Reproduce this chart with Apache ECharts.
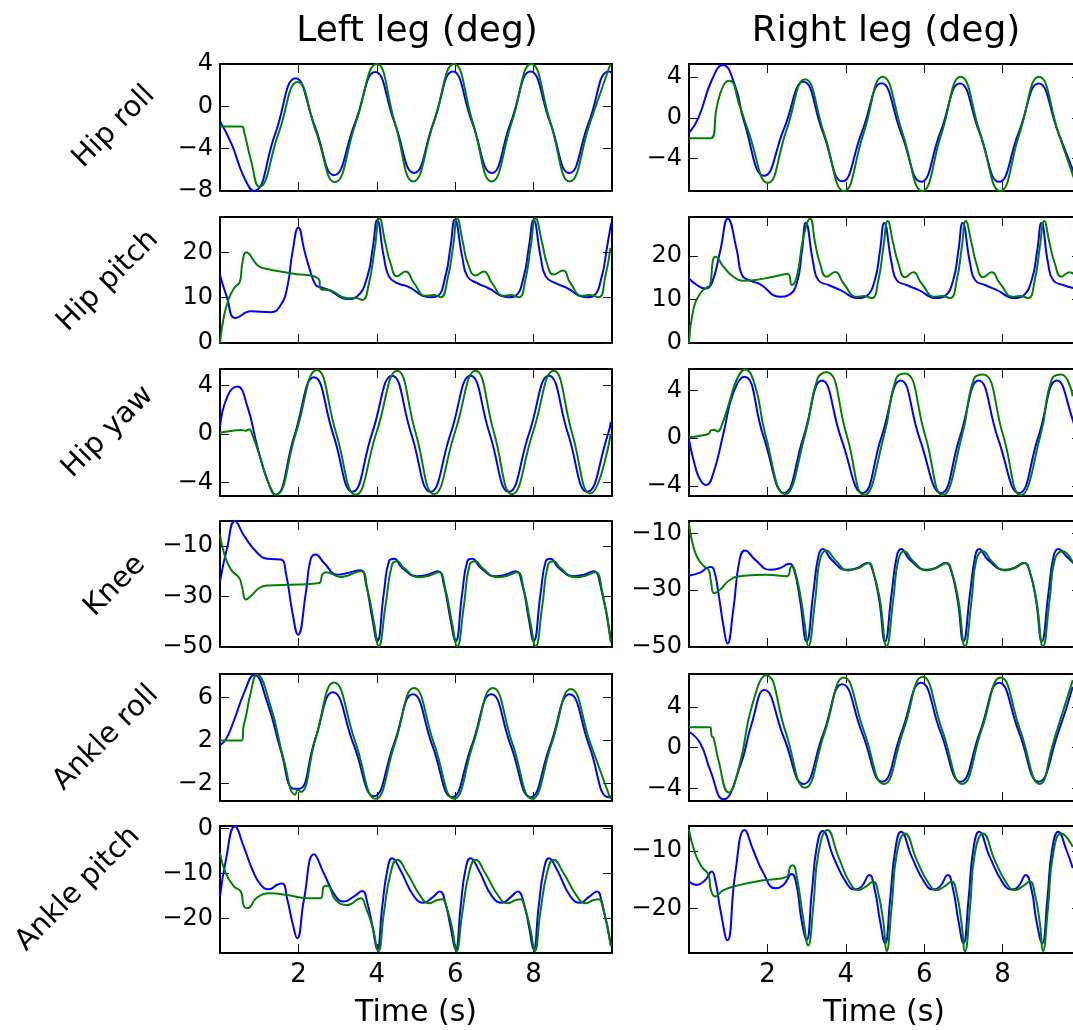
<!DOCTYPE html>
<html><head><meta charset="utf-8">
<script src="https://cdn.jsdelivr.net/npm/echarts@6/dist/echarts.min.js"></script>
<style>html,body{margin:0;padding:0;background:#fff;overflow:hidden;width:1073px;height:1030px}#c{width:1090px;height:1030px}</style>
</head><body><div id="c"></div><script>
// ---------- labels / ticks ----------
const columnTitles = ['Left leg (deg)', 'Right leg (deg)'];
const jointNames = ['Hip roll', 'Hip pitch', 'Hip yaw', 'Knee', 'Ankle roll', 'Ankle pitch'];
const xAxisName = 'Time (s)';
const timeTicks = [2, 4, 6, 8];
const timeRange = [0, 10];
const yTicksLeft  = [[-8,-4,0,4],[0,10,20],[-4,0,4],[-50,-30,-10],[-2,2,6],[-20,-10,0]];
const yTicksRight = [[-4,0,4],[0,10,20],[-4,0,4],[-50,-30,-10],[-4,0,4],[-20,-10]];
const yRangeLeft  = [[-8,4],[0,27.8],[-5.1,5.35],[-50,0],[-3.65,8.2],[-27.7,0.6]];
const yRangeRight = [[-7.2,5.3],[0,28.9],[-4.85,5.8],[-50,-5.6],[-5.2,7.2],[-27.7,-5.7]];

// ---------- data: [time s, angle deg] ----------
const L_hipRoll_1 = [[0,-1.4],[0.3,-3.6],[0.6,-6.6],[0.86,-8.0],[1.4,-2.7],[1.93,2.65],[2.42,-1.9],[2.91,-6.5],[3.44,-1.6],[3.96,3.25],[4.45,-1.5],[4.95,-6.3],[5.45,-1.5],[5.94,3.3],[6.43,-1.5],[6.93,-6.3],[7.42,-1.5],[7.92,3.3],[8.42,-1.5],[8.91,-6.3],[9.41,-1.5],[9.92,3.3],[10,3.2]];
const L_hipRoll_2 = [[0,-1.9],[0.55,-1.9],[0.62,-2.5],[0.79,-5.1],[1.0,-7.6],[1.49,-2.6],[1.98,2.3],[2.45,-2.4],[2.93,-7.15],[3.46,-1.6],[4.0,4.0],[4.46,-1.55],[4.93,-7.1],[5.45,-1.55],[5.97,4.0],[6.45,-1.55],[6.93,-7.1],[7.44,-1.55],[7.94,4.0],[8.43,-1.55],[8.92,-7.1],[9.44,-1.55],[9.96,4.0]];
const L_hipPitch_1 = [[0,15.0],[0.17,10.3],[0.4,5.5],[0.79,7.0],[1.3,6.8],[1.55,8.4],[1.72,12.5],[1.85,20.1],[2.0,25.5],[2.15,20.5],[2.27,16.8],[2.44,12.8],[2.57,12.3],[2.78,11.7],[3.25,9.7],[3.5,10.3],[3.76,14.7],[3.9,21.2],[4.01,27.1],[4.18,19.0],[4.31,14.7],[4.52,13.2],[4.78,12.5],[5.37,10.1],[5.54,10.3],[5.75,14.7],[5.88,21.2],[5.99,27.2],[6.18,19.0],[6.31,14.7],[6.56,13.2],[6.8,12.3],[7.37,10.1],[7.54,10.4],[7.75,14.7],[7.88,21.2],[8.0,27.1],[8.18,19.0],[8.31,14.7],[8.56,13.2],[8.81,12.3],[9.36,10.1],[9.53,10.4],[9.74,14.7],[9.87,21.0],[9.98,26.5]];
const L_hipPitch_2 = [[0,0],[0.1,5.9],[0.23,9.9],[0.36,12.1],[0.51,13.6],[0.57,17.6],[0.67,20.0],[0.95,17.2],[1.12,16.5],[1.8,15.4],[2.52,14.1],[2.57,11.9],[2.82,11.6],[3.25,9.9],[3.46,10.0],[3.63,9.5],[3.8,13.2],[3.95,21.0],[4.07,27.5],[4.22,22.0],[4.35,17.6],[4.52,14.7],[4.73,15.8],[4.95,13.2],[5.24,10.4],[5.46,10.6],[5.63,10.1],[5.8,13.9],[5.95,21.5],[6.05,27.5],[6.2,22.0],[6.32,17.6],[6.52,14.9],[6.73,15.8],[6.94,13.2],[7.24,10.4],[7.41,10.6],[7.62,10.1],[7.79,13.9],[7.93,21.5],[8.05,27.5],[8.22,22.0],[8.34,17.6],[8.51,15.1],[8.75,16.0],[8.94,13.2],[9.24,10.4],[9.41,10.6],[9.66,10.1],[9.83,14.7],[9.96,21.0]];
const L_hipYaw_1 = [[0,0.6],[0.19,3.1],[0.44,3.9],[0.7,2.25],[0.95,-1.0],[1.21,-3.8],[1.41,-5.0],[1.9,-0.1],[2.4,4.67],[2.89,-0.05],[3.38,-4.75],[3.88,0.05],[4.39,4.8],[4.88,0.0],[5.37,-4.75],[5.88,0.0],[6.39,4.8],[6.88,0.0],[7.37,-4.75],[7.88,0.0],[8.39,4.8],[8.88,0.0],[9.37,-4.75],[9.9,0.0],[9.97,1.0]];
const L_hipYaw_2 = [[0,0.1],[0.28,0.25],[0.53,0.33],[0.66,0.27],[0.74,0.4],[0.83,-0.1],[1.04,-2.1],[1.21,-3.8],[1.42,-5.0],[1.93,0.0],[2.47,5.27],[2.96,0.1],[3.46,-5.0],[3.99,0.1],[4.52,5.2],[4.99,0.1],[5.46,-4.95],[5.99,0.1],[6.52,5.2],[6.99,0.1],[7.45,-4.95],[7.98,0.1],[8.51,5.2],[8.98,0.1],[9.45,-4.9],[9.97,0.0]];
const L_knee_1 = [[0,-23.9],[0.19,-10],[0.38,0],[0.62,-6],[0.95,-12.6],[1.21,-15],[1.55,-15.3],[1.68,-20.6],[1.85,-36.5],[1.99,-45.1],[2.19,-28.5],[2.31,-15.3],[2.44,-13.3],[2.65,-16.6],[3.0,-21.3],[3.25,-20.6],[3.59,-19.5],[3.72,-24.6],[3.89,-39.1],[4.01,-47.7],[4.18,-28.5],[4.31,-16],[4.44,-15],[4.65,-18.6],[5.03,-21.9],[5.29,-21.3],[5.56,-19.9],[5.71,-25.2],[5.88,-39.1],[6.01,-47.7],[6.18,-28.5],[6.31,-16],[6.43,-15],[6.65,-18.6],[7.03,-21.9],[7.28,-21.3],[7.54,-19.9],[7.71,-25.2],[7.88,-39.1],[8.0,-47.7],[8.18,-28.5],[8.31,-16],[8.43,-15],[8.64,-18.6],[9.02,-21.9],[9.28,-21.3],[9.53,-19.9],[9.7,-25.2],[9.97,-47]];
const L_knee_2 = [[0,-5.4],[0.1,-12.6],[0.28,-19.3],[0.49,-22.6],[0.56,-25.9],[0.66,-31.2],[0.78,-29.9],[1.0,-26.6],[1.21,-25.6],[1.97,-25.2],[2.53,-24.6],[2.61,-21.3],[2.7,-20.3],[3.08,-22.2],[3.59,-19.9],[3.76,-27.2],[3.93,-40.5],[4.05,-49.7],[4.22,-33.8],[4.39,-17.3],[4.52,-16.0],[4.69,-18.6],[5.07,-22.3],[5.33,-21.7],[5.58,-20.3],[5.75,-27.2],[5.92,-40.5],[6.05,-49.7],[6.22,-33.8],[6.37,-17.3],[6.52,-16.0],[6.69,-18.6],[7.07,-22.3],[7.33,-21.7],[7.58,-20.3],[7.75,-27.2],[7.92,-40.5],[8.05,-49.7],[8.22,-33.8],[8.37,-17.3],[8.51,-16.0],[8.68,-18.6],[9.06,-22.3],[9.32,-21.7],[9.57,-20.3],[9.74,-27.2],[9.97,-48.3]];
const L_ankleRoll_1 = [[0,1.56],[0.15,2.1],[0.36,3.9],[0.61,6.4],[0.87,8.1],[1.21,5.5],[1.55,1.1],[1.89,-2.5],[2.02,-2.5],[2.42,2.0],[2.88,6.5],[3.41,1.6],[3.93,-3.2],[4.43,1.6],[4.92,6.3],[5.42,1.5],[5.92,-3.3],[6.42,1.5],[6.92,6.3],[7.42,1.5],[7.92,-3.3],[8.42,1.5],[8.92,6.3],[9.42,1.5],[9.91,-3.3],[9.98,-3.2]];
const L_ankleRoll_2 = [[0,2.0],[0.56,2.0],[0.6,3.3],[0.66,4.2],[0.78,6.4],[0.94,8.1],[1.29,5.2],[1.63,0.16],[1.92,-3.06],[1.99,-2.6],[2.06,-2.8],[2.44,2.2],[2.91,7.4],[3.44,2.0],[3.97,-3.44],[4.46,1.7],[4.95,6.9],[5.46,1.7],[5.97,-3.44],[6.46,1.7],[6.96,6.9],[7.46,1.7],[7.96,-3.44],[8.46,1.7],[8.95,6.8],[9.45,1.7],[9.96,-3.44]];
const L_anklePitch_1 = [[0,-15.1],[0.15,-7.0],[0.38,0.5],[0.61,-4.1],[0.83,-9.2],[1.04,-12.5],[1.25,-13.5],[1.46,-12.5],[1.59,-12.2],[1.72,-15.9],[1.85,-21.0],[1.97,-24.4],[2.14,-15.9],[2.4,-5.7],[2.65,-10.0],[2.95,-15.1],[3.16,-16.2],[3.42,-15.1],[3.63,-13.9],[3.76,-16.6],[3.89,-21.8],[4.01,-26.9],[4.14,-17.3],[4.27,-9.2],[4.39,-6.6],[4.6,-9.2],[4.95,-15.1],[5.2,-16.5],[5.42,-15.3],[5.61,-14.0],[5.75,-16.6],[5.88,-21.8],[6.01,-26.9],[6.14,-17.3],[6.26,-9.2],[6.39,-6.6],[6.6,-9.2],[6.94,-15.1],[7.2,-16.5],[7.41,-15.3],[7.6,-14.0],[7.75,-16.6],[7.88,-21.8],[8.0,-26.9],[8.13,-17.3],[8.26,-9.2],[8.39,-6.6],[8.6,-9.2],[8.94,-15.1],[9.19,-16.5],[9.4,-15.3],[9.62,-14.0],[9.74,-16.6],[9.97,-25.8]];
const L_anklePitch_2 = [[0,-5.5],[0.15,-10.0],[0.36,-12.9],[0.53,-14.0],[0.61,-17.3],[0.7,-17.7],[0.95,-15.3],[1.29,-14.4],[1.72,-14.8],[2.23,-15.5],[2.57,-15.5],[2.65,-12.9],[2.74,-12.7],[2.95,-15.9],[3.25,-17.0],[3.59,-15.5],[3.71,-17.3],[3.89,-21.8],[4.04,-27.3],[4.18,-18.8],[4.35,-10.0],[4.52,-6.9],[4.78,-10.0],[5.12,-15.1],[5.33,-16.6],[5.54,-15.9],[5.67,-15.7],[5.8,-18.1],[5.93,-22.5],[6.03,-27.3],[6.18,-18.8],[6.35,-10.0],[6.52,-6.9],[6.77,-10.0],[7.11,-15.1],[7.33,-16.6],[7.54,-15.9],[7.66,-15.7],[7.79,-18.1],[7.92,-22.5],[8.03,-27.3],[8.17,-18.8],[8.34,-10.0],[8.51,-6.9],[8.77,-10.0],[9.11,-15.1],[9.32,-16.6],[9.53,-15.9],[9.66,-15.7],[9.79,-18.1],[9.97,-26.2]];

const R_hipRoll_1 = [[0,-1.5],[0.24,0.0],[0.58,3.7],[0.86,5.2],[1.18,3.1],[1.4,-0.3],[1.92,-5.7],[2.42,-1.1],[2.92,3.55],[3.41,-1.35],[3.91,-6.25],[4.41,-1.4],[4.91,3.4],[5.41,-1.45],[5.92,-6.3],[6.41,-1.45],[6.91,3.37],[7.41,-1.45],[7.91,-6.3],[8.41,-1.45],[8.92,3.37],[9.42,-1.45],[9.91,-6.3]];
const R_hipRoll_2 = [[0,-2.0],[0.56,-2.0],[0.71,1.1],[0.88,3.2],[1.03,3.66],[1.3,1.1],[1.52,-1.4],[2.01,-6.4],[2.48,-1.3],[2.96,3.8],[3.45,-1.6],[3.95,-7.2],[4.45,-1.55],[4.94,4.05],[5.45,-1.55],[5.95,-7.2],[6.44,-1.55],[6.93,4.05],[7.43,-1.55],[7.94,-7.2],[8.43,-1.55],[8.93,4.05],[9.43,-1.55],[9.93,-7.2]];
const R_hipPitch_1 = [[0,14.8],[0.2,13.3],[0.41,12.5],[0.58,13.7],[0.8,21.3],[0.99,28.5],[1.22,21.3],[1.35,15.6],[1.56,14.3],[1.81,13.5],[2.32,10.6],[2.54,11.0],[2.75,13.7],[2.88,21.0],[2.98,27.6],[3.17,18.3],[3.3,14.4],[3.56,13.3],[3.85,12.2],[4.32,10.3],[4.53,10.8],[4.74,14.4],[4.87,21.0],[4.98,27.5],[5.17,18.3],[5.3,14.4],[5.55,13.3],[5.85,12.2],[6.31,10.3],[6.53,10.8],[6.74,14.4],[6.87,21.0],[6.98,27.5],[7.17,18.3],[7.3,14.4],[7.55,13.3],[7.84,12.2],[8.31,10.3],[8.52,10.8],[8.74,14.4],[8.88,21.0],[8.99,27.5],[9.16,18.3],[9.29,14.4],[9.54,13.3],[9.85,12.5]];
const R_hipPitch_2 = [[0,0],[0.11,7.6],[0.29,11.4],[0.46,12.8],[0.54,13.3],[0.61,19.0],[0.67,19.8],[0.88,17.5],[1.13,15.2],[1.39,14.3],[1.64,14.4],[2.15,15.2],[2.52,15.8],[2.62,13.3],[2.75,15.2],[2.92,24.3],[3.09,28.5],[3.22,22.8],[3.34,18.3],[3.51,15.2],[3.73,16.3],[3.94,13.7],[4.28,10.6],[4.45,10.8],[4.66,10.3],[4.83,14.4],[4.96,22.0],[5.07,28.0],[5.21,22.8],[5.34,18.3],[5.51,15.1],[5.72,16.2],[5.93,13.7],[6.27,10.6],[6.44,10.8],[6.66,10.3],[6.83,14.4],[6.96,22.0],[7.06,28.0],[7.21,22.8],[7.33,18.3],[7.5,15.1],[7.72,16.2],[7.93,13.7],[8.27,10.6],[8.44,10.8],[8.65,10.3],[8.82,14.4],[8.95,22.0],[9.06,28.0],[9.2,22.8],[9.33,18.3],[9.5,15.2],[9.71,16.2],[9.85,15.5]];
const R_hipYaw_1 = [[0,-0.15],[0.16,-2.4],[0.29,-3.5],[0.44,-3.93],[0.62,-2.95],[0.88,0.42],[1.13,3.79],[1.41,5.14],[1.9,0.15],[2.43,-4.6],[2.92,0.1],[3.39,4.83],[3.89,-0.1],[4.43,-4.6],[4.91,0.1],[5.4,4.83],[5.89,-0.1],[6.43,-4.6],[6.91,0.1],[7.39,4.83],[7.89,-0.1],[8.42,-4.6],[8.91,0.1],[9.39,4.83],[9.79,1.54],[9.89,0.1]];
const R_hipYaw_2 = [[0,0.06],[0.29,0.2],[0.5,0.37],[0.56,0.65],[0.64,0.7],[0.73,0.56],[0.84,1.12],[1.05,3.23],[1.22,4.92],[1.43,5.76],[1.69,4.35],[1.94,0.42],[2.45,-4.69],[2.96,0.28],[3.28,5.0],[3.51,5.53],[4.02,0.28],[4.47,-4.78],[4.98,0.28],[5.28,4.97],[5.51,5.42],[6.02,0.28],[6.47,-4.78],[6.97,0.28],[7.27,4.97],[7.5,5.34],[8.01,0.28],[8.46,-4.78],[8.97,0.28],[9.26,4.97],[9.5,5.34],[9.79,3.51]];
const R_knee_1 = [[0,-24.9],[0.29,-23.7],[0.54,-21.8],[0.63,-22.5],[0.75,-31.0],[0.88,-42.7],[0.98,-48.8],[1.13,-36.8],[1.29,-19.3],[1.43,-16.0],[1.69,-19.3],[2.07,-22.8],[2.32,-22.2],[2.56,-20.7],[2.68,-22.8],[2.83,-33.3],[3.0,-48.0],[3.17,-31.0],[3.3,-18.1],[3.41,-15.5],[3.64,-19.3],[4.02,-22.8],[4.28,-22.2],[4.56,-20.4],[4.68,-22.8],[4.85,-33.3],[5.0,-48.0],[5.17,-31.0],[5.3,-18.1],[5.41,-15.5],[5.64,-19.3],[6.06,-22.8],[6.27,-22.2],[6.55,-20.4],[6.68,-22.8],[6.85,-33.3],[7.0,-48.0],[7.17,-31.0],[7.3,-18.1],[7.4,-15.5],[7.63,-19.3],[8.06,-22.8],[8.27,-22.2],[8.55,-20.4],[8.68,-22.8],[8.85,-33.3],[9.0,-48.0],[9.17,-31.0],[9.3,-18.1],[9.42,-15.5],[9.63,-18.1],[9.85,-21.0]];
const R_knee_2 = [[0,-6.4],[0.07,-12.2],[0.2,-18.1],[0.37,-21.4],[0.5,-22.8],[0.56,-26.9],[0.64,-31.0],[0.79,-29.8],[1.05,-26.3],[1.39,-24.9],[1.98,-24.5],[2.49,-25.1],[2.62,-21.6],[2.68,-22.2],[2.83,-31.0],[2.96,-42.7],[3.04,-49.7],[3.22,-33.3],[3.34,-19.3],[3.5,-16.0],[3.73,-19.3],[4.06,-23.0],[4.32,-22.2],[4.58,-20.4],[4.7,-23.4],[4.87,-33.3],[5.04,-49.7],[5.21,-33.3],[5.34,-19.3],[5.49,-16.3],[5.72,-19.8],[6.06,-23.0],[6.31,-22.2],[6.57,-20.4],[6.7,-23.4],[6.87,-33.3],[7.04,-49.7],[7.21,-33.3],[7.33,-19.3],[7.5,-16.3],[7.72,-19.8],[8.06,-23.0],[8.31,-22.2],[8.56,-20.4],[8.69,-23.4],[8.86,-33.3],[9.03,-49.7],[9.2,-33.3],[9.33,-19.3],[9.53,-16.3],[9.79,-20.2]];
const R_ankleRoll_1 = [[0,1.56],[0.29,0.42],[0.54,-2.18],[0.88,-5.04],[1.3,-1.85],[1.6,2.37],[1.92,5.63],[2.42,1.0],[2.92,-3.54],[3.42,1.3],[3.91,6.21],[4.42,1.4],[4.93,-3.32],[5.42,1.5],[5.92,6.34],[6.42,1.5],[6.93,-3.32],[7.42,1.5],[7.91,6.34],[8.42,1.5],[8.92,-3.32],[9.42,1.5],[9.79,5.95]];
const R_ankleRoll_2 = [[0,2.0],[0.54,2.0],[0.58,1.14],[0.63,0.91],[0.75,-1.2],[1.01,-4.36],[1.3,-1.53],[1.6,4.0],[1.97,7.09],[2.46,1.6],[2.96,-3.9],[3.46,1.5],[3.95,6.86],[4.46,1.65],[4.97,-3.54],[5.47,1.7],[5.96,6.93],[6.46,1.7],[6.97,-3.54],[7.46,1.7],[7.95,6.86],[8.45,1.7],[8.95,-3.54],[9.29,0.4],[9.33,1.0],[9.79,6.6]];
const R_anklePitch_1 = [[0,-15.3],[0.2,-15.9],[0.41,-15.1],[0.58,-13.6],[0.67,-15.1],[0.8,-20.2],[0.98,-25.5],[1.18,-13.9],[1.42,-6.4],[1.64,-9.9],[1.9,-13.9],[2.2,-16.5],[2.41,-15.9],[2.62,-14.0],[2.75,-16.2],[2.87,-22.0],[3.0,-25.4],[3.13,-17.4],[3.26,-9.3],[3.41,-6.55],[3.68,-11.0],[4.02,-15.6],[4.23,-16.7],[4.4,-16.2],[4.6,-14.2],[4.74,-16.8],[4.87,-22.0],[5.0,-26.0],[5.13,-18.5],[5.26,-9.9],[5.41,-6.7],[5.68,-11.0],[6.02,-15.6],[6.23,-16.7],[6.4,-16.2],[6.6,-14.2],[6.74,-16.8],[6.87,-22.0],[7.0,-26.0],[7.13,-18.5],[7.25,-9.9],[7.4,-6.7],[7.67,-11.0],[8.01,-15.6],[8.23,-16.7],[8.4,-16.2],[8.59,-14.2],[8.74,-16.8],[8.86,-22.0],[9.01,-26.0],[9.14,-18.5],[9.26,-9.9],[9.42,-6.7],[9.63,-9.9],[9.79,-13.0]];
const R_anklePitch_2 = [[0,-6.4],[0.16,-10.5],[0.33,-12.8],[0.5,-14.2],[0.56,-16.8],[0.67,-17.9],[0.88,-16.8],[1.3,-15.9],[1.9,-15.1],[2.49,-14.5],[2.58,-12.8],[2.65,-12.5],[2.75,-14.5],[2.92,-22.0],[3.04,-26.4],[3.17,-19.7],[3.3,-10.5],[3.53,-6.4],[3.81,-11.0],[4.11,-15.6],[4.32,-16.8],[4.53,-16.1],[4.7,-15.3],[4.83,-17.4],[4.96,-22.5],[5.04,-27.4],[5.17,-19.7],[5.3,-10.5],[5.51,-7.0],[5.81,-11.6],[6.11,-15.6],[6.32,-16.8],[6.53,-16.1],[6.7,-15.3],[6.83,-17.4],[6.95,-22.5],[7.04,-27.4],[7.17,-19.7],[7.29,-10.5],[7.5,-7.0],[7.8,-11.6],[8.1,-15.6],[8.31,-16.8],[8.52,-16.1],[8.7,-15.3],[8.82,-17.4],[8.95,-22.5],[9.03,-27.4],[9.16,-19.7],[9.29,-10.5],[9.5,-7.0],[9.79,-9.3]];

const leftData = [[L_hipRoll_1,L_hipRoll_2],[L_hipPitch_1,L_hipPitch_2],[L_hipYaw_1,L_hipYaw_2],[L_knee_1,L_knee_2],[L_ankleRoll_1,L_ankleRoll_2],[L_anklePitch_1,L_anklePitch_2]];
const rightData = [[R_hipRoll_1,R_hipRoll_2],[R_hipPitch_1,R_hipPitch_2],[R_hipYaw_1,R_hipYaw_2],[R_knee_1,R_knee_2],[R_ankleRoll_1,R_ankleRoll_2],[R_anklePitch_1,R_anklePitch_2]];

// ---------- layout ----------
const FONT = 'DejaVu Sans';
const colLeft = [220, 689];
const gridW = 392;
const rowTop = [64, 217, 369, 521, 674, 826];
const rowH = [127, 126, 127, 126, 127, 127];
const lineColors = ['#0000ff', '#008000'];
const rowLabelPos = [[114,127],[108,281],[108,432],[115,586],[106,738],[78,889]];
const titleX = [417, 886];
const timeLabelX = [416, 884];

const fmt = v => v < 0 ? '\u2212' + Math.abs(v) : String(v);
const spine = {show: true, onZero: false, lineStyle: {color: '#000', width: 2}};
const tickStyle = {color: '#111', width: 1};

const grids = [], xAxes = [], yAxes = [], series = [];
const cols = [[leftData, yTicksLeft, yRangeLeft], [rightData, yTicksRight, yRangeRight]];
cols.forEach(([data, yt, yr], c) => {
  for (let r = 0; r < 6; r++) {
    const g = grids.length;
    grids.push({left: colLeft[c], top: rowTop[r], width: gridW, height: rowH[r]});
    const lastRow = r === 5;
    xAxes.push({gridIndex: g, type: 'value', min: timeRange[0], max: timeRange[1], position: 'bottom',
      axisLine: spine, splitLine: {show: false},
      axisTick: {show: true, inside: true, length: 9, customValues: timeTicks, lineStyle: tickStyle},
      axisLabel: {show: lastRow, customValues: timeTicks, margin: 9, fontSize: 26, color: '#000', fontFamily: FONT}});
    xAxes.push({gridIndex: g, type: 'value', min: timeRange[0], max: timeRange[1], position: 'top',
      axisLine: spine, splitLine: {show: false},
      axisTick: {show: true, inside: true, length: 9, customValues: timeTicks, lineStyle: tickStyle},
      axisLabel: {show: false}});
    yAxes.push({gridIndex: g, type: 'value', min: yr[r][0], max: yr[r][1], position: 'left',
      axisLine: spine, splitLine: {show: false},
      axisTick: {show: true, inside: true, length: 9, customValues: yt[r], lineStyle: tickStyle},
      axisLabel: {show: true, customValues: yt[r], margin: 7, fontSize: 24, color: '#000', fontFamily: FONT, formatter: fmt}});
    yAxes.push({gridIndex: g, type: 'value', min: yr[r][0], max: yr[r][1], position: 'right',
      axisLine: spine, splitLine: {show: false},
      axisTick: {show: true, inside: true, length: 9, customValues: yt[r], lineStyle: tickStyle},
      axisLabel: {show: false}});
    data[r].forEach((d, k) => {
      series.push({type: 'line', xAxisIndex: 2 * g, yAxisIndex: 2 * g, data: d, showSymbol: false,
        smooth: 0.5, clip: true, lineStyle: {color: lineColors[k], width: 2}, itemStyle: {color: lineColors[k]},
        emphasis: {disabled: true}});
    });
  }
});

const graphics = [];
columnTitles.forEach((t, c) => graphics.push({type: 'text', x: titleX[c], y: 32,
  style: {text: t, font: '36px "' + FONT + '"', fill: '#000', textAlign: 'center', textVerticalAlign: 'middle'}}));
timeLabelX.forEach(x => graphics.push({type: 'text', x: x, y: 1013,
  style: {text: xAxisName, font: '30px "' + FONT + '"', fill: '#000', textAlign: 'center', textVerticalAlign: 'middle'}}));
jointNames.forEach((n, r) => graphics.push({type: 'text', x: rowLabelPos[r][0], y: rowLabelPos[r][1], rotation: Math.PI / 4,
  style: {text: n, font: '29px "' + FONT + '"', fill: '#000', textAlign: 'center', textVerticalAlign: 'middle'}}));

const chart = echarts.init(document.getElementById('c'), null, {renderer: 'canvas'});
chart.setOption({animation: false, backgroundColor: '#fff', grid: grids, xAxis: xAxes, yAxis: yAxes, series: series, graphic: graphics});
</script></body></html>
